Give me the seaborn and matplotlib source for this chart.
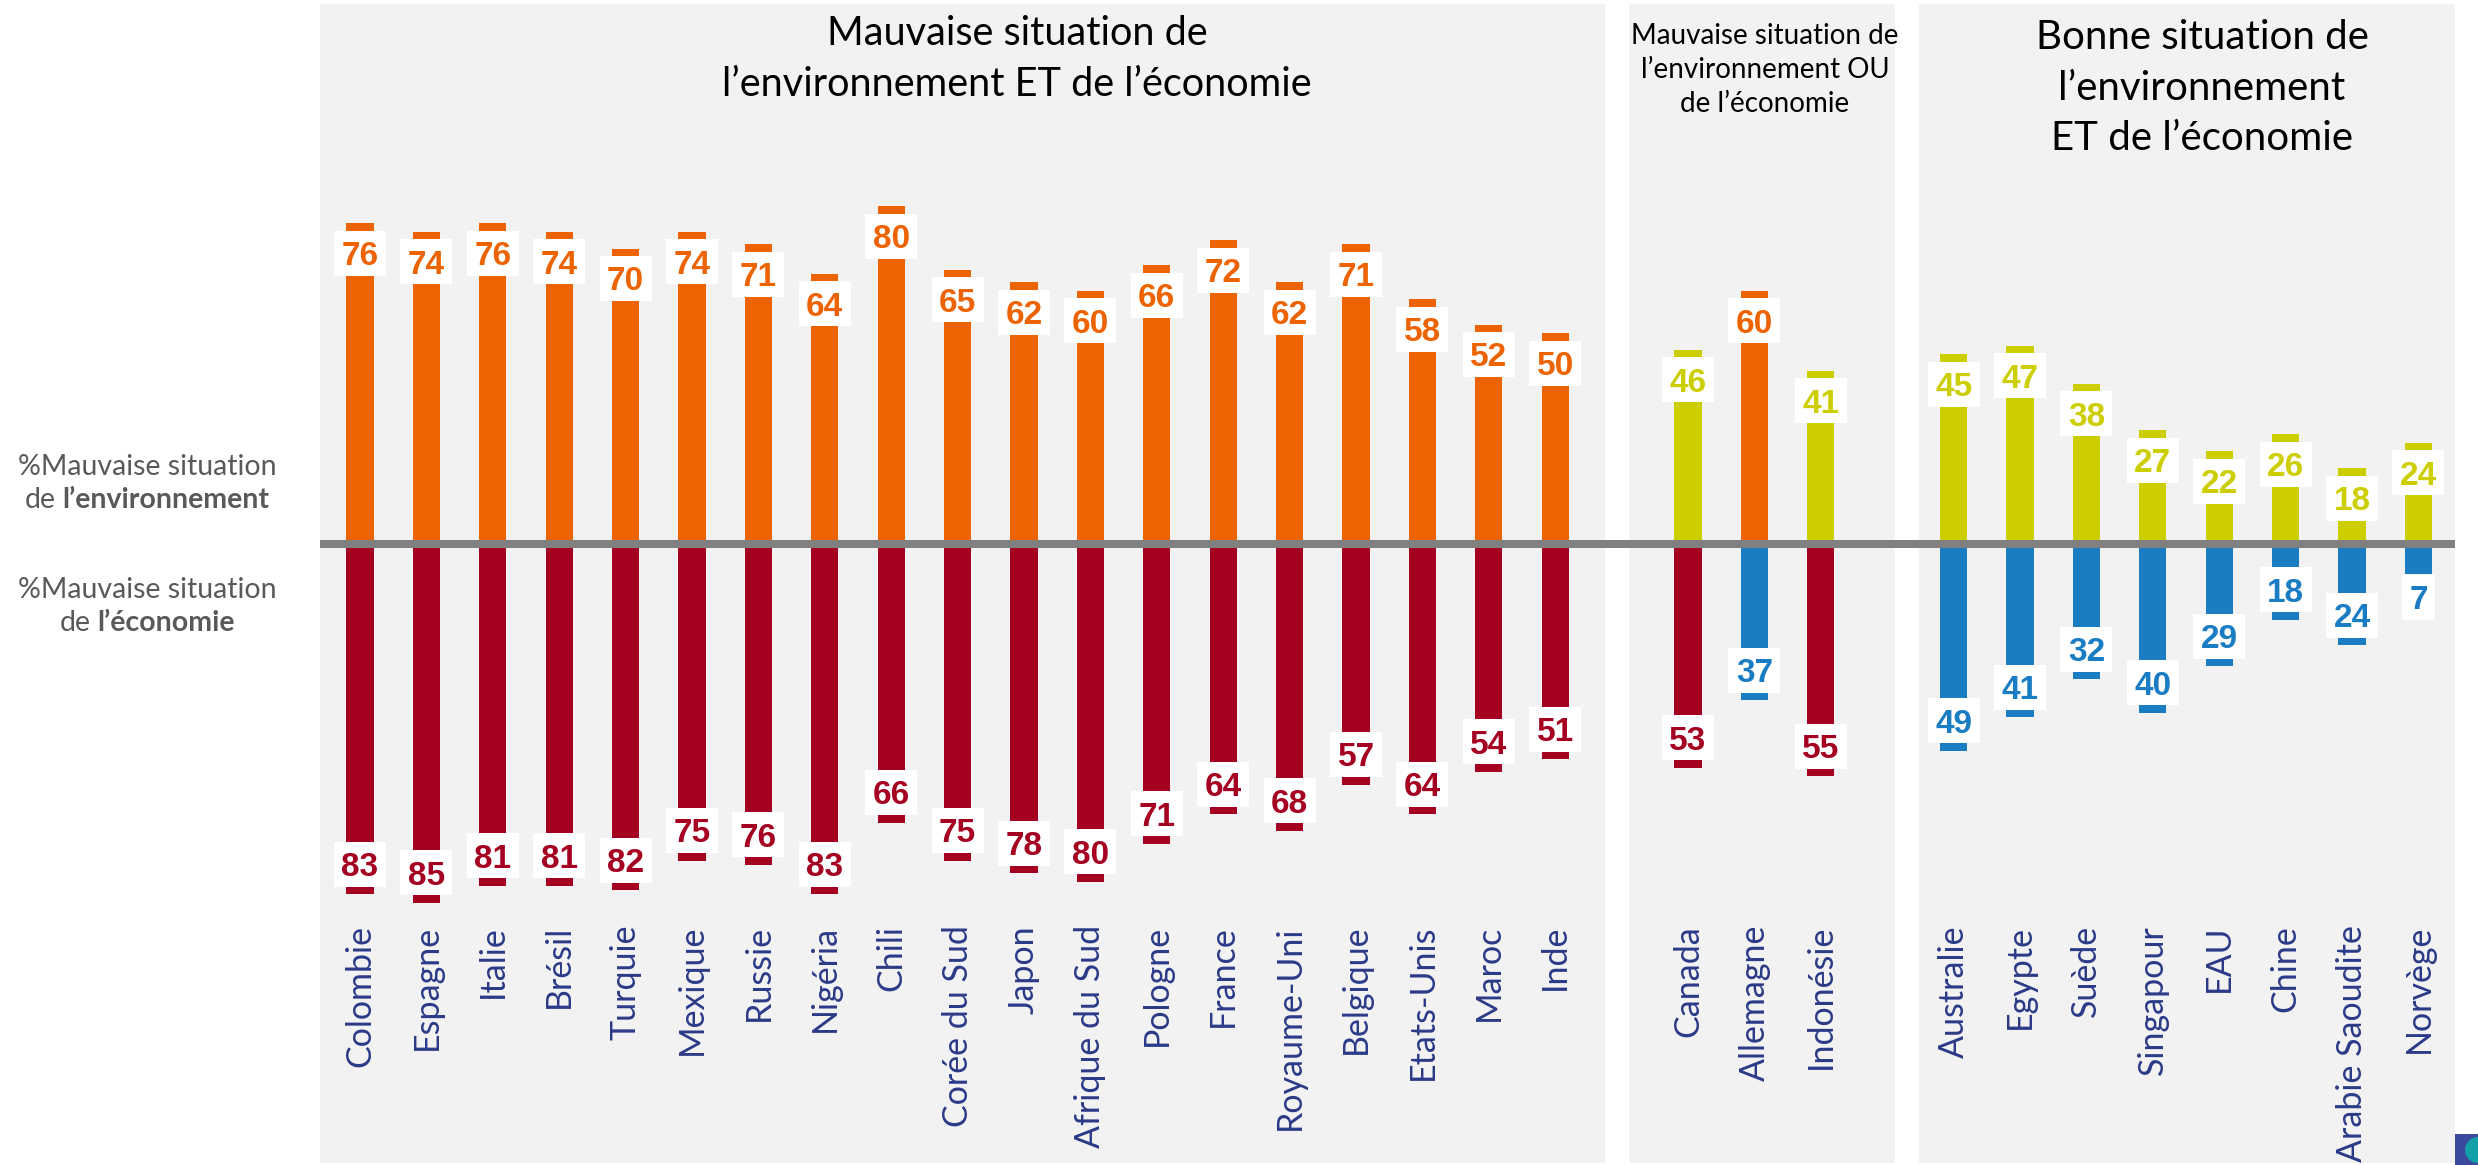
import matplotlib
matplotlib.use("Agg")
import matplotlib.pyplot as plt
from matplotlib.patches import Rectangle, Ellipse
import seaborn as sns
import pandas as pd

# --- data -------------------------------------------------------------
panel_titles = [
    "Mauvaise situation de\nl’environnement ET de l’économie",
    "Mauvaise situation de\nl’environnement OU\nde l’économie",
    "Bonne situation de\nl’environnement\nET de l’économie",
]
countries_1 = ["Colombie", "Espagne", "Italie", "Brésil", "Turquie", "Mexique", "Russie",
               "Nigéria", "Chili", "Corée du Sud", "Japon", "Afrique du Sud", "Pologne",
               "France", "Royaume-Uni", "Belgique", "Etats-Unis", "Maroc", "Inde"]
countries_2 = ["Canada", "Allemagne", "Indonésie"]
countries_3 = ["Australie", "Egypte", "Suède", "Singapour", "EAU", "Chine",
               "Arabie Saoudite", "Norvège"]

# % "mauvaise situation de l'environnement" (bars up)
env_1 = [76, 74, 76, 74, 70, 74, 71, 64, 80, 65, 62, 60, 66, 72, 62, 71, 58, 52, 50]
env_2 = [46, 60, 41]
env_3 = [45, 47, 38, 27, 22, 26, 18, 24]
# % "mauvaise situation de l'économie" (bars down)
eco_1 = [83, 85, 81, 81, 82, 75, 76, 83, 66, 75, 78, 80, 71, 64, 68, 57, 64, 54, 51]
eco_2 = [53, 37, 55]
eco_3 = [49, 41, 32, 40, 29, 18, 24, 7]

BAD_THRESHOLD = 50  # >= 50% -> "mauvaise situation"

side_labels = [("%Mauvaise situation", "de ", "l’environnement"),
               ("%Mauvaise situation", "de ", "l’économie")]

# --- layout (pixels of the 2478x1165 canvas) ---------------------------
W, H = 2478, 1165
X0_PX, STEP_PX = 360, 66.4      # first bar centre, bar spacing
ZERO_PX, PPU = 544, 4.22        # zero line, pixels per percent
PANEL_PX = [(320, 1605), (1629, 1895), (1919, 2455)]
PANEL_TOP, PANEL_BOT = 4, 1163
# x, y, font size, line spacing
TITLE_POS = [(1017, 59, 28.5, 1.45), (1765, 70, 20, 1.4), (2202, 88, 29, 1.45)]

COL_ENV_BAD, COL_ENV_GOOD = "#EC6300", "#CCCE00"
COL_ECO_BAD, COL_ECO_GOOD = "#A50021", "#1A7DC4"
COL_PANEL = "#F2F2F2"
COL_NAMES = "#2B3A87"
COL_SIDE = "#595959"


def px_x(px):
    return (px - X0_PX) / STEP_PX


def px_y(py):
    return (ZERO_PX - py) / PPU


groups = [(countries_1, env_1, eco_1), (countries_2, env_2, eco_2), (countries_3, env_3, eco_3)]
rows = []
pos = 0
for g, (names, env, eco) in enumerate(groups):
    for name, e, c in zip(names, env, eco):
        rows.append(dict(country=name, pos=pos, group=g, val=e, side="env",
                         kind="env_bad" if e >= BAD_THRESHOLD else "env_good"))
        rows.append(dict(country=name, pos=pos, group=g, val=-c, side="eco",
                         kind="eco_bad" if c >= BAD_THRESHOLD else "eco_good"))
        pos += 1
    pos += 1  # empty slot between panels
df = pd.DataFrame(rows)

palette = {"env_bad": COL_ENV_BAD, "env_good": COL_ENV_GOOD,
           "eco_bad": COL_ECO_BAD, "eco_good": COL_ECO_GOOD}

# --- figure ------------------------------------------------------------
sns.set_theme(style="white")
plt.rcParams["font.family"] = ["Lato", "DejaVu Sans"]

fig = plt.figure(figsize=(W / 100, H / 100), dpi=100)
ax = fig.add_axes([0, 0, 1, 1])

for (x1, x2) in PANEL_PX:
    ax.add_patch(Rectangle((px_x(x1), px_y(PANEL_BOT)), px_x(x2) - px_x(x1),
                           px_y(PANEL_TOP) - px_y(PANEL_BOT), fc=COL_PANEL, ec="none", zorder=0))

sns.barplot(data=df, x="pos", y="val", hue="kind", palette=palette, native_scale=True,
            dodge=False, width=0.41, errorbar=None, legend=False, linewidth=0,
            saturation=1, ax=ax, zorder=2)

ax.plot([px_x(PANEL_PX[0][0]), px_x(PANEL_PX[-1][1])], [0, 0], color="#808080",
        lw=8 * 0.72, solid_capstyle="butt", zorder=3)

# value labels in white boxes
box_h = 45 / PPU
for _, r in df.iterrows():
    v = abs(r["val"])
    sgn = 1 if r["val"] > 0 else -1
    if v * PPU >= 55:
        cy = r["val"] - sgn * 30 / PPU
    else:
        cy = r["val"] + sgn * 23.5 / PPU
    txt = str(v)
    bw = (15 + 18.5 * len(txt)) / STEP_PX
    ax.add_patch(Rectangle((r["pos"] - bw / 2, cy - box_h / 2), bw, box_h,
                           fc="white", ec="none", zorder=4))
    ax.text(r["pos"], cy - 11.9 / PPU, txt, ha="center", va="baseline", fontsize=24,
            fontweight="bold", family=["Liberation Sans", "DejaVu Sans"],
            color=palette[r["kind"]], zorder=5)

# country names
for _, r in df[df["side"] == "env"].iterrows():
    ax.text(r["pos"], px_y(925), r["country"], rotation=90, ha="center", va="top",
            fontsize=24.5, color=COL_NAMES, zorder=5)

# panel titles
for title, (tx, ty, fs, ls) in zip(panel_titles, TITLE_POS):
    ax.text(px_x(tx), px_y(ty), title, ha="center", va="center", fontsize=fs,
            color="black", linespacing=ls, zorder=5)

# side labels with bold part
fig.canvas.draw()
renderer = fig.canvas.get_renderer()
SIDE_FS = 20.5
for (l1, pre, bold), (y1, y2) in zip(side_labels, [(467, 500), (590, 623)]):
    ax.text(px_x(147), px_y(y1), l1, ha="center", va="center", fontsize=SIDE_FS, color=COL_SIDE)
    ta = ax.text(0, px_y(y2), pre.strip(), ha="left", va="center", fontsize=SIDE_FS, color=COL_SIDE)
    tb = ax.text(0, px_y(y2), bold, ha="left", va="center", fontsize=SIDE_FS,
                 fontweight="bold", color=COL_SIDE)
    wa = ta.get_window_extent(renderer).width
    wb = tb.get_window_extent(renderer).width
    gap = 7
    left = 147 - (wa + gap + wb) / 2
    ta.set_x(px_x(left))
    tb.set_x(px_x(left + wa + gap))

# small corner logo
fig.add_artist(Rectangle((2455 / W, 0), 23 / W, 31 / H, transform=fig.transFigure,
                         fc="#3B4A9C", ec="none"))
fig.add_artist(Ellipse((2478 / W, 15 / H), 26 / W, 26 / H, transform=fig.transFigure,
                       fc="#12A0A8", ec="none"))

ax.set_xlim(px_x(0), px_x(W))
ax.set_ylim(px_y(H), px_y(0))
ax.axis("off")

fig.savefig("out.png", dpi=100)
